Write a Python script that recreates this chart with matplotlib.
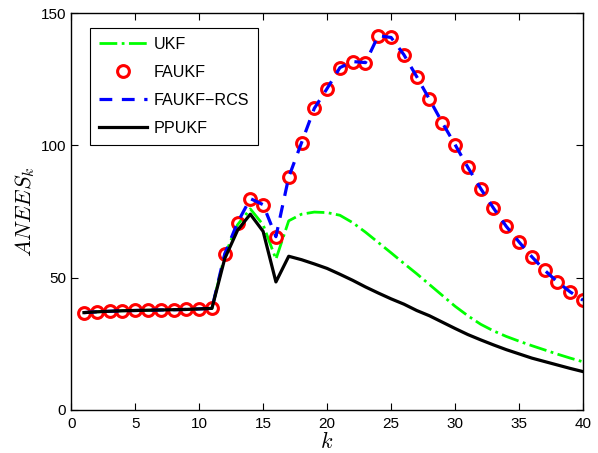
import numpy as np
import matplotlib
matplotlib.use('Agg')
import matplotlib.pyplot as plt

plt.rcParams['font.family'] = ['Liberation Sans', 'DejaVu Sans']
plt.rcParams['mathtext.fontset'] = 'cm'

k = np.arange(1, 41)

# values
low = [36.8, 37.1, 37.3, 37.5, 37.6, 37.7, 37.8, 37.9, 38.0, 38.2, 38.4]
faukf = low + [59.0, 70.8, 79.9, 77.6, 65.5, 88.0, 101.0, 114.0, 121.5,
               129.4, 131.7, 131.3, 141.5, 140.8, 134.3, 126.0, 117.4, 108.6,
               100.3, 91.7, 83.7, 76.3, 69.4, 63.5, 57.9, 52.8, 48.4, 44.6, 41.5]
faukf_rcs = list(faukf)
ukf = low + [58.5, 70.0, 76.0, 70.0, 57.0, 71.5, 74.0, 74.8, 74.6, 73.6,
             70.8, 67.2, 63.3, 59.4, 55.4, 51.5, 47.4, 43.3, 39.2, 35.6,
             32.4, 29.9, 27.8, 26.0, 24.3, 22.7, 21.1, 19.6, 18.2]
ppukf = low + [57.2, 67.9, 74.0, 67.5, 48.4, 58.1, 56.8, 55.2, 53.5, 51.3,
               49.0, 46.5, 44.2, 42.0, 40.0, 37.6, 35.6, 33.2, 30.8, 28.5,
               26.5, 24.6, 22.8, 21.2, 19.6, 18.3, 17.0, 15.7, 14.5]

fig = plt.figure(figsize=(5.98, 4.53), dpi=100)
ax = fig.add_axes([0.119, 0.095, 0.856, 0.876])

ax.plot(k, ukf, '-.', color='#00ff00', lw=2, label='UKF')
ax.plot(k, faukf, 'o', ls='none', mfc='none', mec='red', mew=2.2, ms=8.5, label='FAUKF')
ax.plot(k, faukf_rcs, '--', color='blue', lw=2.3, dashes=(4, 3), label='FAUKF\u2212RCS')
ax.plot(k, ppukf, '-', color='black', lw=2.3, label='PPUKF')

ax.set_xlim(0, 40)
ax.set_ylim(0, 150)
ax.set_xticks(np.arange(0, 41, 5))
ax.set_yticks([0, 50, 100, 150])
ax.tick_params(direction='in', top=True, right=True, labelsize=11, length=5)
ax.tick_params(axis='x', pad=5)
for s in ax.spines.values():
    s.set_linewidth(1.0)

ax.set_xlabel('$k$', fontsize=16, labelpad=1)
ax.set_ylabel('$ANEES_k$', fontsize=16, labelpad=3)

leg = ax.legend(loc='upper left', bbox_to_anchor=(0.037, 0.962), fontsize=11.6,
                fancybox=False, edgecolor='black', framealpha=1,
                handlelength=3.0, handletextpad=0.4, labelspacing=0.8,
                borderpad=0.55, borderaxespad=0)
leg.get_frame().set_linewidth(0.8)

fig.savefig('out.png', dpi=100)
